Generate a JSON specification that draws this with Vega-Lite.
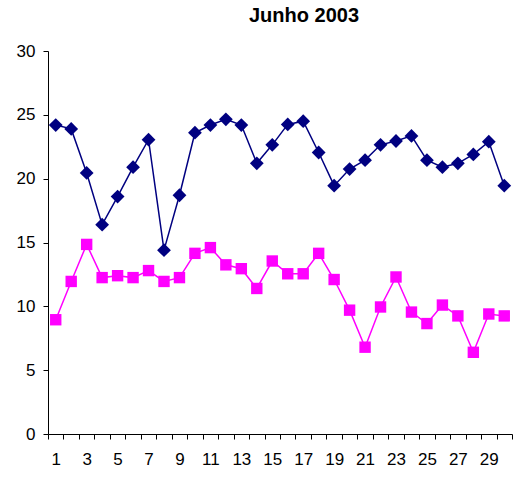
{
  "$schema": "https://vega.github.io/schema/vega-lite/v6.json",
  "width": 464,
  "height": 383,
  "autosize": {"type": "none"},
  "padding": {"left": 48, "top": 51, "right": 5, "bottom": 43},
  "background": "white",
  "title": {"text": "Junho 2003", "font": "Liberation Sans", "fontSize": 20, "fontWeight": "bold", "color": "black", "anchor": "middle", "dx": 24, "offset": 16},
  "config": {
    "view": {"stroke": null},
    "axis": {"labelFont": "Liberation Sans", "labelFontSize": 17, "labelColor": "black", "domainColor": "black", "tickColor": "black", "domainWidth": 1, "tickWidth": 1, "grid": false, "title": null}
  },
  "data": {"values": [
    {"day": 1, "s": "A", "v": 24.2}, {"day": 2, "s": "A", "v": 23.9}, {"day": 3, "s": "A", "v": 20.45}, {"day": 4, "s": "A", "v": 16.4},
    {"day": 5, "s": "A", "v": 18.6}, {"day": 6, "s": "A", "v": 20.9}, {"day": 7, "s": "A", "v": 23.05}, {"day": 8, "s": "A", "v": 14.4},
    {"day": 9, "s": "A", "v": 18.7}, {"day": 10, "s": "A", "v": 23.6}, {"day": 11, "s": "A", "v": 24.2}, {"day": 12, "s": "A", "v": 24.65},
    {"day": 13, "s": "A", "v": 24.2}, {"day": 14, "s": "A", "v": 21.2}, {"day": 15, "s": "A", "v": 22.65}, {"day": 16, "s": "A", "v": 24.25},
    {"day": 17, "s": "A", "v": 24.5}, {"day": 18, "s": "A", "v": 22.05}, {"day": 19, "s": "A", "v": 19.45}, {"day": 20, "s": "A", "v": 20.75},
    {"day": 21, "s": "A", "v": 21.45}, {"day": 22, "s": "A", "v": 22.65}, {"day": 23, "s": "A", "v": 22.95}, {"day": 24, "s": "A", "v": 23.35},
    {"day": 25, "s": "A", "v": 21.45}, {"day": 26, "s": "A", "v": 20.9}, {"day": 27, "s": "A", "v": 21.2}, {"day": 28, "s": "A", "v": 21.9},
    {"day": 29, "s": "A", "v": 22.9}, {"day": 30, "s": "A", "v": 19.45},
    {"day": 1, "s": "B", "v": 8.95}, {"day": 2, "s": "B", "v": 11.95}, {"day": 3, "s": "B", "v": 14.85}, {"day": 4, "s": "B", "v": 12.25},
    {"day": 5, "s": "B", "v": 12.4}, {"day": 6, "s": "B", "v": 12.25}, {"day": 7, "s": "B", "v": 12.8}, {"day": 8, "s": "B", "v": 11.95},
    {"day": 9, "s": "B", "v": 12.25}, {"day": 10, "s": "B", "v": 14.15}, {"day": 11, "s": "B", "v": 14.6}, {"day": 12, "s": "B", "v": 13.25},
    {"day": 13, "s": "B", "v": 12.95}, {"day": 14, "s": "B", "v": 11.4}, {"day": 15, "s": "B", "v": 13.55}, {"day": 16, "s": "B", "v": 12.55},
    {"day": 17, "s": "B", "v": 12.55}, {"day": 18, "s": "B", "v": 14.15}, {"day": 19, "s": "B", "v": 12.1}, {"day": 20, "s": "B", "v": 9.7},
    {"day": 21, "s": "B", "v": 6.8}, {"day": 22, "s": "B", "v": 9.95}, {"day": 23, "s": "B", "v": 12.3}, {"day": 24, "s": "B", "v": 9.55},
    {"day": 25, "s": "B", "v": 8.65}, {"day": 26, "s": "B", "v": 10.1}, {"day": 27, "s": "B", "v": 9.25}, {"day": 28, "s": "B", "v": 6.4},
    {"day": 29, "s": "B", "v": 9.4}, {"day": 30, "s": "B", "v": 9.25}
  ]},
  "encoding": {
    "x": {"field": "day", "type": "ordinal", "sort": "ascending",
      "scale": {"type": "band", "paddingInner": 0, "paddingOuter": 0},
      "axis": {"labelAngle": 0, "tickBand": "extent", "tickSize": 5, "labelPadding": 12, "labelOverlap": false,
        "labelExpr": "datum.value % 2 == 1 ? datum.label : ''"}},
    "y": {"field": "v", "type": "quantitative",
      "scale": {"domain": [0, 30], "nice": false, "zero": true},
      "axis": {"values": [0, 5, 10, 15, 20, 25, 30], "tickSize": 5, "labelPadding": 8}},
    "color": {"field": "s", "type": "nominal", "scale": {"domain": ["A", "B"], "range": ["#000080", "#FF00FF"]}, "legend": null}
  },
  "layer": [
    {"mark": {"type": "line", "strokeWidth": 1.5}},
    {"mark": {"type": "point", "filled": true, "opacity": 1},
      "encoding": {
        "shape": {"field": "s", "type": "nominal", "scale": {"domain": ["A", "B"], "range": ["diamond", "square"]}, "legend": null},
        "size": {"field": "s", "type": "nominal", "scale": {"domain": ["A", "B"], "range": [190, 130]}, "legend": null}
      }}
  ]
}
